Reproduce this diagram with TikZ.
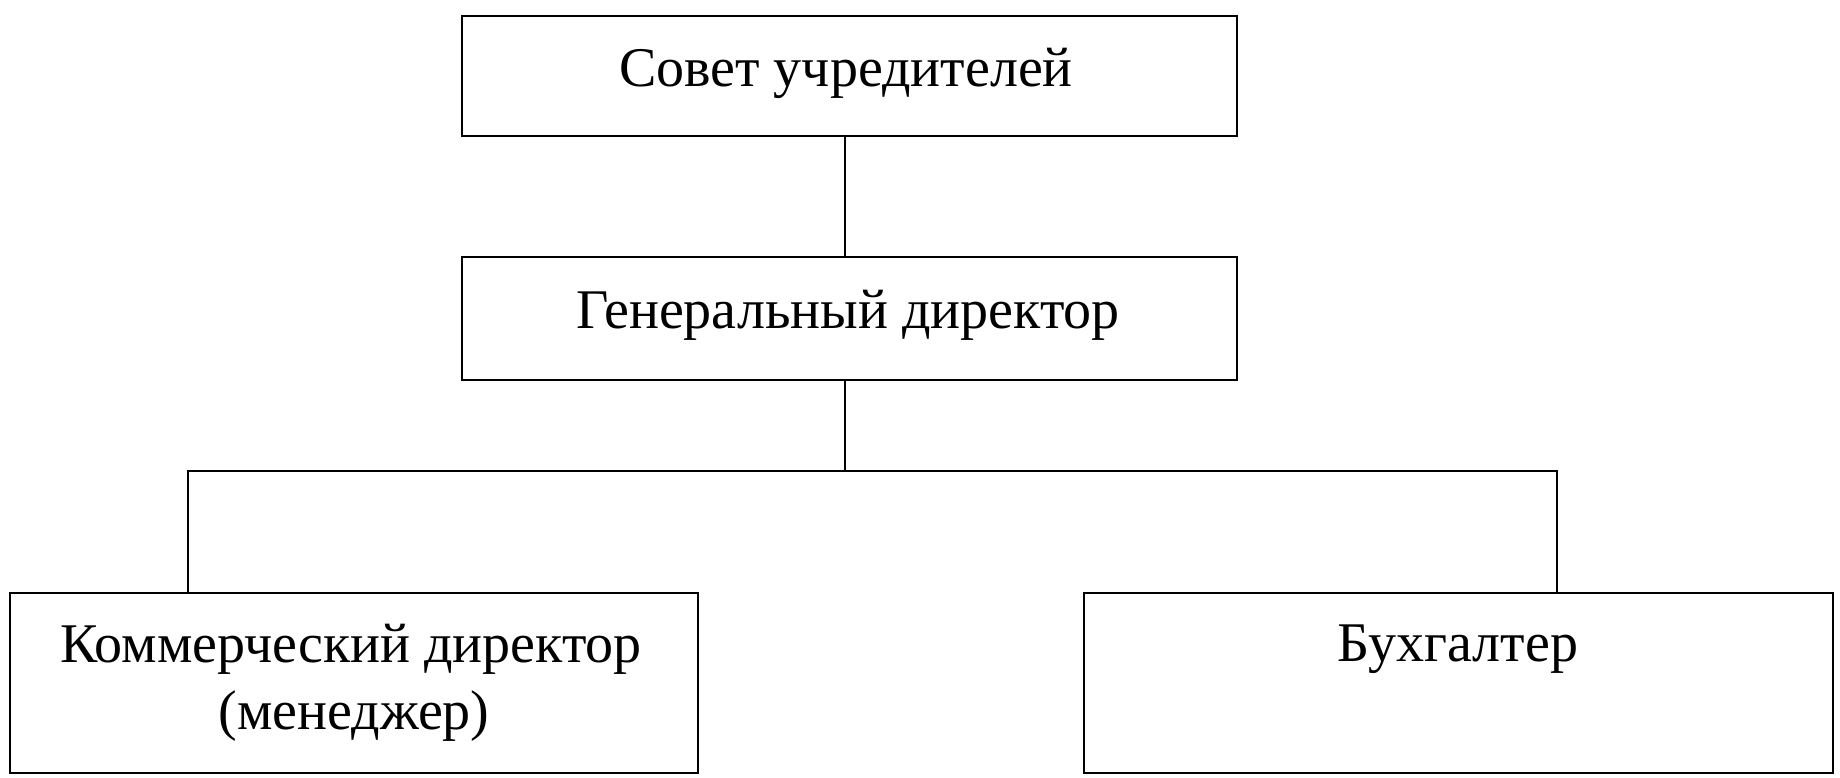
\documentclass[tikz,border=0pt]{standalone}
\usepackage{fontspec}
\setmainfont{Liberation Serif}
\begin{document}
\begin{tikzpicture}[x=1pt,y=-1pt,
  box/.style={draw, line width=2pt, inner sep=0pt},
  lbl/.style={anchor=base, font=\fontsize{56}{67}\selectfont, inner sep=0pt},
  conn/.style={line width=1.3pt}]
\useasboundingbox (0,0) rectangle (1840,778);
\node[box, minimum width=775pt, minimum height=120pt] (sovet) at (849.5,76.5) {};
\node[box, minimum width=775pt, minimum height=123pt] (gen) at (849.5,318.5) {};
\node[box, minimum width=688pt, minimum height=180pt] (kom) at (354,683) {};
\node[box, minimum width=749pt, minimum height=180pt] (buh) at (1458.5,683) {};

\node[lbl] (t1) at (846,87) {Совет учредителей};
\node[lbl] (t2) at (848,328) {Генеральный директор};
\node[lbl] (t3) at (351,662) {Коммерческий директор};
\node[lbl] (t4) at (354,729) {(менеджер)};
\node[lbl] (t5) at (1458,661) {Бухгалтер};

\coordinate (j) at (845,471);
\coordinate (jl) at (188,471);
\coordinate (jr) at (1557,471);
\draw[conn] (j |- sovet.south) -- (j |- gen.north);
\draw[conn] (j |- gen.south) -- (j);
\draw[conn] (kom.north -| jl) -- (jl) -- (jr) -- (buh.north -| jr);
\end{tikzpicture}
\end{document}
